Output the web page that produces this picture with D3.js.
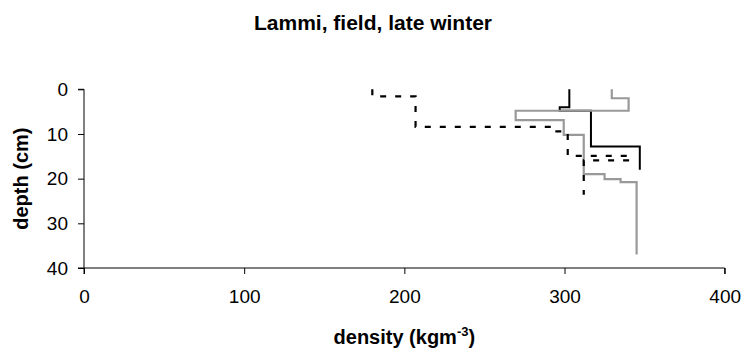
<!DOCTYPE html>
<html>
<head>
<meta charset="utf-8">
<script src="https://cdn.jsdelivr.net/npm/d3@7"></script>
<style>
  html, body { margin: 0; padding: 0; background: #fff; }
  svg { display: block; font-family: "Liberation Sans", Arial, sans-serif; }
</style>
</head>
<body>
<svg id="chart" width="746" height="354"></svg>
<script>
// Layered profiles: each layer = [top depth, bottom depth] with density (kg m^-3)
const blackTops    = [0, 4.0, 4.8, 12.8];
const blackBottoms = [4.0, 4.8, 12.8, 18.0];
const blackDensity = [303, 297, 316.5, 347];

const grayTops    = [0, 2.0, 4.8, 6.9, 10.2, 19.0, 20.1, 20.8];
const grayBottoms = [2.0, 4.8, 6.9, 10.2, 19.0, 20.1, 20.8, 37.0];
const grayDensity = [329.5, 340, 269.5, 299.5, 312, 325, 335, 345];

const dashTops    = [0, 1.6, 8.4, 9.4, 14.9, 15.9];
const dashBottoms = [1.6, 8.4, 9.4, 14.9, 15.9, 23.6];
const dashDensity = [180, 207, 291.5, 302, 341, 312];

const xTicks = [0, 100, 200, 300, 400];
const yTicks = [0, 10, 20, 30, 40];

const titleText = "Lammi, field, late winter";
const xTitle = "density (kgm";
const xTitleSup = "-3";
const yTitle = "depth (cm)";

const svg = d3.select("#chart");
const pLeft = 84, pRight = 724.7, pTop = 89.3, pBottom = 268;

const x = d3.scaleLinear().domain([0, 400]).range([pLeft, pRight]);
const y = d3.scaleLinear().domain([0, 40]).range([pTop, pBottom]);

// Axes
const xAxis = d3.axisBottom(x).tickValues(xTicks).tickSize(6).tickPadding(16);
const yAxis = d3.axisLeft(y).tickValues(yTicks).tickSize(6).tickPadding(10);

const gx = svg.append("g").attr("transform", `translate(0,${pBottom})`).call(xAxis);
const gy = svg.append("g").attr("transform", `translate(${pLeft},0)`).call(yAxis);
[gx, gy].forEach(g => {
  g.select(".domain").attr("stroke", "#000").attr("stroke-width", 1);
  g.selectAll(".tick line").attr("stroke", "#000");
  g.selectAll(".tick text").attr("fill", "#000").style("font-size", "19px")
    .style("font-family", "'Liberation Sans', Arial, sans-serif");
});
gy.select(".domain").attr("d", `M-6,${pTop}H0V${pBottom}H-6`);
gx.select(".domain").attr("d", `M${pLeft},6V0H${pRight}V6`);

// Step profiles
function profilePoints(tops, bottoms, dens) {
  const pts = [];
  dens.forEach((d, i) => {
    pts.push([d, tops[i]]);
    pts.push([d, bottoms[i]]);
  });
  return pts;
}
const line = d3.line().x(d => x(d[0])).y(d => y(d[1]));

svg.append("path")
  .datum(profilePoints(blackTops, blackBottoms, blackDensity))
  .attr("d", line).attr("fill", "none")
  .attr("stroke", "#000").attr("stroke-width", 2);

svg.append("path")
  .datum(profilePoints(grayTops, grayBottoms, grayDensity))
  .attr("d", line).attr("fill", "none")
  .attr("stroke", "#999999").attr("stroke-width", 2.2);

svg.append("path")
  .datum(profilePoints(dashTops, dashBottoms, dashDensity))
  .attr("d", line).attr("fill", "none")
  .attr("stroke", "#000").attr("stroke-width", 2.2)
  .attr("stroke-dasharray", "6,9");

// Title
svg.append("text")
  .attr("x", 373).attr("y", 30)
  .attr("text-anchor", "middle")
  .style("font-weight", "bold").style("font-size", "21px")
  .text(titleText);

// X axis title
const xt = svg.append("text")
  .attr("x", (pLeft + pRight) / 2).attr("y", 344)
  .attr("text-anchor", "middle")
  .style("font-weight", "bold").style("font-size", "20px");
xt.append("tspan").text(xTitle);
xt.append("tspan").attr("dy", -8).style("font-size", "13px").text(xTitleSup);
xt.append("tspan").attr("dy", 8).text(")");

// Y axis title
svg.append("text")
  .attr("transform", `translate(28,${(pTop + pBottom) / 2}) rotate(-90)`)
  .attr("text-anchor", "middle")
  .style("font-weight", "bold").style("font-size", "20px")
  .text(yTitle);
</script>
</body>
</html>
